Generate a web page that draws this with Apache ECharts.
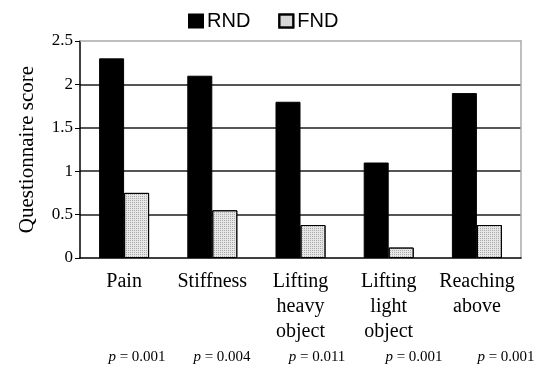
<!DOCTYPE html>
<html>
<head>
<meta charset="utf-8">
<script src="https://cdn.jsdelivr.net/npm/echarts@6/dist/echarts.min.js"></script>
<style>html,body{margin:0;padding:0;background:#fff;}#c{width:539px;height:369px;}</style>
</head>
<body>
<div id="c"></div>
<script>
const categories = ['Pain', 'Stiffness', 'Lifting\nheavy\nobject', 'Lifting\nlight\nobject', 'Reaching\nabove'];
const rnd = [2.3, 2.1, 1.8, 1.1, 1.9];
const fnd = [0.75, 0.55, 0.38, 0.12, 0.38];
const pValues = ['0.001', '0.004', '0.011', '0.001', '0.001'];
const yTicks = [0, 0.5, 1, 1.5, 2, 2.5];

const pPos = [137, 222, 317, 414, 506];

const chart = echarts.init(document.getElementById('c'));
const serif = 'Liberation Serif';
chart.setOption({
  animation: false,
  backgroundColor: '#fff',
  legend: {
    top: 6, left: 183,
    icon: 'rect',
    itemWidth: 14, itemHeight: 13, itemGap: 28,
    textStyle: { fontFamily: 'Liberation Sans', fontSize: 20, color: '#000', padding: [0, 0, 0, -1] },
    data: ['RND', 'FND']
  },
  grid: { left: 80, right: 18, top: 41, bottom: 111 },
  xAxis: [{
    type: 'category', data: categories,
    axisLine: { lineStyle: { color: '#000', width: 1.5 } },
    axisTick: { length: 5, lineStyle: { color: '#000' } },
    axisLabel: { fontFamily: serif, fontSize: 20, color: '#000', lineHeight: 25, margin: 11, interval: 0 }
  }, {
    type: 'category', position: 'top', data: categories,
    axisLine: { show: true, onZero: false, lineStyle: { color: '#aaa', width: 1.5 } },
    axisTick: { show: false }, axisLabel: { show: false }
  }],
  yAxis: [{
    type: 'value', min: 0, max: 2.5, interval: 0.5,
    name: 'Questionnaire score', nameLocation: 'middle', nameGap: 42,
    nameTextStyle: { fontFamily: serif, fontSize: 21, color: '#000' },
    axisLine: { show: true, lineStyle: { color: '#000', width: 1.5 } },
    axisTick: { show: true, length: 5, lineStyle: { color: '#000' } },
    axisLabel: { fontFamily: serif, fontSize: 17, color: '#000', margin: 7,
      formatter: v => String(yTicks[yTicks.indexOf(v)]) },
    splitLine: { lineStyle: { color: ['rgba(0,0,0,0)', '#555', '#555', '#555', '#555', 'rgba(0,0,0,0)'], width: 2 } }
  }, {
    type: 'value', min: 0, max: 2.5, interval: 0.5, position: 'right',
    axisLine: { show: true, onZero: false, lineStyle: { color: '#aaa', width: 1.5 } },
    axisTick: { show: false }, axisLabel: { show: false }, splitLine: { show: false }
  }],
  series: [{
    name: 'RND', type: 'bar', data: rnd, barWidth: 25, barGap: '0%',
    itemStyle: { color: '#000', borderColor: '#000', borderWidth: 1 }
  }, {
    name: 'FND', type: 'bar', data: fnd, barWidth: 25,
    itemStyle: {
      color: '#e6e6e6', borderColor: '#000', borderWidth: 1,
      decal: { symbol: 'rect', symbolSize: 1, color: '#aaa', dashArrayX: [1, 1], dashArrayY: [1, 1], rotation: 0 }
    }
  }],
  graphic: pValues.map((p, i) => ({
    type: 'text', x: pPos[i], y: 357,
    style: {
      text: '{i|p} = ' + p,
      rich: { i: { fontFamily: serif, fontStyle: 'italic', fontSize: 15, fill: '#000' } },
      fontFamily: serif, fontSize: 15, fill: '#000',
      align: 'center', verticalAlign: 'middle'
    }
  }))
});
</script>
</body>
</html>
